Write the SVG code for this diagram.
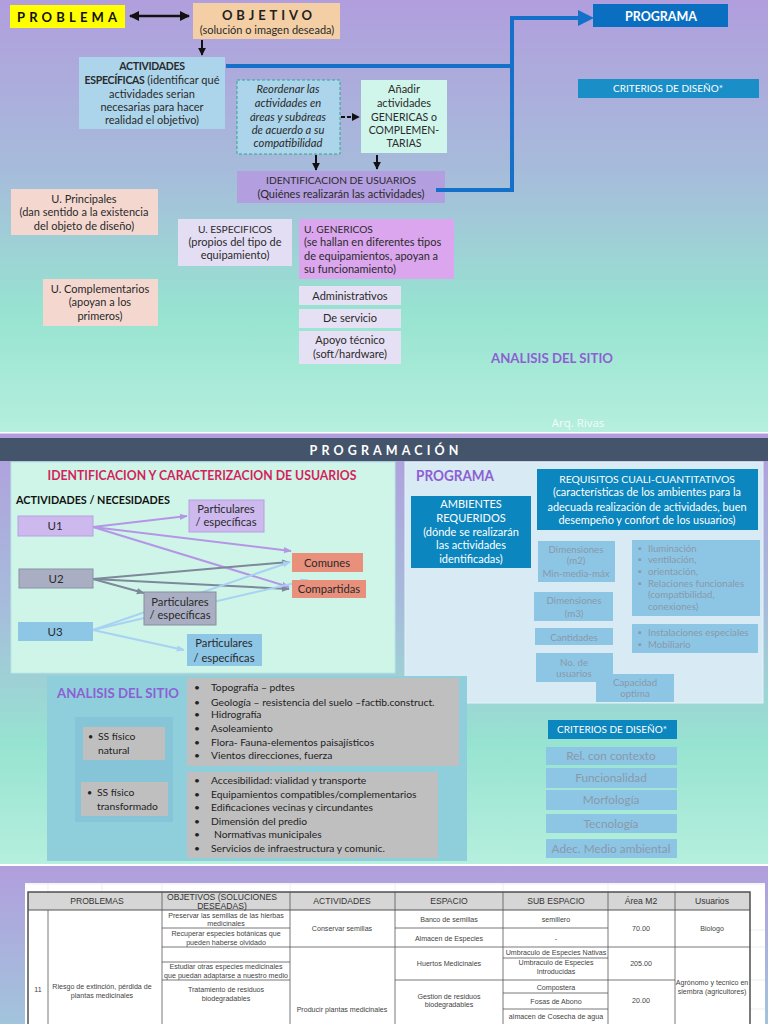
<svg xmlns="http://www.w3.org/2000/svg" width="768" height="1024" viewBox="0 0 768 1024" font-size="11">
<defs>
<linearGradient id="bg1" x1="0" y1="0" x2="0" y2="1">
<stop offset="0" stop-color="#b19edd"/>
<stop offset="0.4" stop-color="#a6bcdb"/>
<stop offset="0.72" stop-color="#97e3d1"/>
<stop offset="1" stop-color="#b6efdd"/>
</linearGradient>
<linearGradient id="bg3" x1="0" y1="0" x2="0" y2="1">
<stop offset="0" stop-color="#b19edd"/>
<stop offset="1" stop-color="#a2c4dc"/>
</linearGradient>
<marker id="mk" viewBox="0 0 10 10" refX="9" refY="5" markerWidth="4" markerHeight="4" orient="auto-start-reverse"><path d="M0,0 L10,5 L0,10 z" fill="#111"/></marker>
<marker id="mp" viewBox="0 0 10 10" refX="9" refY="5" markerWidth="4" markerHeight="4" orient="auto"><path d="M0,1 L10,5 L0,9 z" fill="#b596e6"/></marker>
<marker id="mg" viewBox="0 0 10 10" refX="9" refY="5" markerWidth="4" markerHeight="4" orient="auto"><path d="M0,1 L10,5 L0,9 z" fill="#7d889a"/></marker>
<marker id="ml" viewBox="0 0 10 10" refX="9" refY="5" markerWidth="4" markerHeight="4" orient="auto"><path d="M0,1 L10,5 L0,9 z" fill="#a8d2f2"/></marker>
</defs>
<style>
text{font-family:Lato,"Open Sans","Liberation Sans",sans-serif;fill:#2a2a2a}
.c{text-anchor:middle}
.b{font-weight:bold}
.u{font-size:10.2px}
.w{fill:#ffffff}
.g{fill:#8a98aa;font-size:9.7px}
.gb{fill:#8a98aa;font-size:11.8px}
.pu{fill:#8d5fd3;font-weight:bold}
.cal{font-size:10.3px;fill:#222}
.tb{font-family:"Liberation Sans",Arial,sans-serif;font-size:7.1px;fill:#444}
.th{font-family:"Liberation Sans",Arial,sans-serif;font-size:8.6px;fill:#333}
.gl{stroke:#555;stroke-width:0.8;fill:none}
</style>

<!-- Slide backgrounds -->
<rect x="0" y="0" width="768" height="432" fill="url(#bg1)"/>
<rect x="0" y="432" width="768" height="1.5" fill="#ffffff"/>
<rect x="0" y="433.5" width="768" height="431" fill="url(#bg1)"/>
<rect x="0" y="438" width="768" height="23" fill="#44546a"/>
<rect x="0" y="864" width="768" height="2" fill="#ffffff"/>
<rect x="0" y="866" width="768" height="158" fill="url(#bg3)"/>

<!-- ===== Slide 1 ===== -->
<g id="connectors-top">
<line x1="130" y1="16" x2="189" y2="16" stroke="#111" stroke-width="2.5" marker-start="url(#mk)" marker-end="url(#mk)"/>
<line x1="202" y1="40" x2="202" y2="55" stroke="#111" stroke-width="2" marker-end="url(#mk)"/>
<line x1="341" y1="117" x2="359" y2="117" stroke="#111" stroke-width="2" stroke-dasharray="4,2" marker-end="url(#mk)"/>
<line x1="316" y1="155" x2="316" y2="170" stroke="#111" stroke-width="2" marker-end="url(#mk)"/>
<line x1="377" y1="155" x2="377" y2="169" stroke="#111" stroke-width="2" marker-end="url(#mk)"/>
</g>

<g id="n-problema">
<rect x="10" y="5" width="115" height="23" fill="#ffff00"/>
<text x="17" y="21.5" class="b" font-size="13" textLength="100" lengthAdjust="spacing" style="fill:#111">PROBLEMA</text>
</g>
<g id="n-objetivo">
<rect x="193" y="3" width="147" height="36" fill="#f4cfa6"/>
<text x="222" y="20" class="b" font-size="13" textLength="90" lengthAdjust="spacing" style="fill:#222">OBJETIVO</text>
<text x="267" y="33.5" class="c">(solución o imagen deseada)</text>
</g>
<g id="n-actividades">
<rect x="79" y="57" width="146" height="72" fill="#acd4ea"/>
<text x="152" y="70" class="c b" font-size="10.5" style="letter-spacing:-0.3px">ACTIVIDADES</text>
<text x="152" y="84" class="c"><tspan class="b" font-size="10.5" style="letter-spacing:-0.3px">ESPECÍFICAS</tspan> (identificar qué</text>
<text x="152" y="97.5" class="c">actividades serian</text>
<text x="152" y="110.5" class="c">necesarias para hacer</text>
<text x="152" y="123.5" class="c">realidad el objetivo)</text>
</g>
<g id="n-reordenar">
<rect x="237" y="80" width="103" height="74" fill="#acd4ea" stroke="#2aa88a" stroke-width="1" stroke-dasharray="3,2"/>
<text x="288" y="93" class="c" font-size="11.2" font-style="italic">Reordenar las</text>
<text x="288" y="106.5" class="c" font-size="11.2" font-style="italic">actividades en</text>
<text x="288" y="120.5" class="c" font-size="11.2" font-style="italic">áreas y subáreas</text>
<text x="288" y="133.5" class="c" font-size="11.2" font-style="italic">de acuerdo a su</text>
<text x="288" y="147" class="c" font-size="11.2" font-style="italic">compatibilidad</text>
</g>
<g id="n-anadir">
<rect x="361" y="80" width="86" height="73" fill="#d0f5ea"/>
<text x="404" y="93" class="c">Añadir</text>
<text x="404" y="106.5" class="c">actividades</text>
<text x="404" y="120.5" class="c" font-size="10.5">GENERICAS o</text>
<text x="404" y="133.5" class="c" font-size="10.5">COMPLEMEN-</text>
<text x="404" y="147" class="c" font-size="10.5">TARIAS</text>
</g>
<g id="n-identificacion">
<rect x="237" y="171" width="208" height="32" fill="#b39ee0"/>
<text x="341" y="184" class="c u">IDENTIFICACION DE USUARIOS</text>
<text x="341" y="197.5" class="c">(Quiénes realizarán las actividades)</text>
</g>
<g id="connectors-blue">
<polyline points="226,66 512,66" fill="none" stroke="#1470c8" stroke-width="4"/>
<polyline points="436,190 512,190 512,18 580,18" fill="none" stroke="#1470c8" stroke-width="4"/>
<path d="M578,10 L594,18 L578,26 z" fill="#1470c8"/>
</g>
<g id="n-programa">
<rect x="593" y="4" width="135" height="23" fill="#0b6fc1"/>
<text x="661" y="21" class="c b w" font-size="13.5" textLength="72" lengthAdjust="spacingAndGlyphs">PROGRAMA</text>
</g>
<g id="n-criterios1">
<rect x="578" y="79" width="181" height="19" fill="#1a8ec7"/>
<text x="668" y="92" class="c w" font-size="10">CRITERIOS DE DISEÑO*</text>
</g>
<g id="n-uprincipales">
<rect x="11" y="189" width="147" height="46" fill="#f4d8d0"/>
<text x="84" y="202.5" class="c">U. Principales</text>
<text x="84" y="215.5" class="c">(dan sentido a la existencia</text>
<text x="84" y="229.5" class="c">del objeto de diseño)</text>
</g>
<g id="n-uespecificos">
<rect x="178" y="219" width="114" height="47" fill="#e4def4"/>
<text x="235" y="232.5" class="c u">U. ESPECIFICOS</text>
<text x="235" y="245.5" class="c">(propios del tipo de</text>
<text x="235" y="258.5" class="c">equipamiento)</text>
</g>
<g id="n-ugenericos">
<rect x="299" y="219" width="155" height="60" fill="#dba6ee"/>
<text x="304" y="232.5" class="u">U. GENERICOS</text>
<text x="304" y="245.5">(se hallan en diferentes tipos</text>
<text x="304" y="259.5">de equipamientos, apoyan a</text>
<text x="304" y="272.5">su funcionamiento)</text>
</g>
<g id="n-ucomplementarios">
<rect x="43" y="279" width="115" height="47" fill="#f4d8d0"/>
<text x="100" y="292.5" class="c">U. Complementarios</text>
<text x="100" y="305.5" class="c">(apoyan a los</text>
<text x="100" y="319.5" class="c">primeros)</text>
</g>
<g id="n-administrativos">
<rect x="299" y="286" width="102" height="19" fill="#e6e0f4"/>
<text x="350" y="299.5" class="c">Administrativos</text>
</g>
<g id="n-deservicio">
<rect x="299" y="309" width="102" height="19" fill="#e6e0f4"/>
<text x="350" y="322" class="c">De servicio</text>
</g>
<g id="n-apoyo">
<rect x="299" y="331" width="102" height="33" fill="#e6e0f4"/>
<text x="350" y="344" class="c">Apoyo técnico</text>
<text x="350" y="358" class="c">(soft/hardware)</text>
</g>
<g id="n-analisis1">
<text x="552" y="363" class="c pu" font-size="13.3" textLength="122" lengthAdjust="spacingAndGlyphs">ANALISIS DEL SITIO</text>
</g>
<text x="578" y="427" class="c" font-size="11.5" style="fill:#ffffff;fill-opacity:0.85;font-family:'Open Sans','Liberation Sans',sans-serif">Arq. Rivas</text>

<!-- ===== Slide 2 ===== -->
<text x="384" y="454.5" class="c b w" font-size="12.5" textLength="149" lengthAdjust="spacing">PROGRAMACIÓN</text>

<rect x="405" y="462" width="358" height="241" fill="#d8ebf4" stroke="#e6f2f8" stroke-width="1"/>
<rect x="11" y="462" width="384" height="211" fill="#cff5e8" stroke="#b8e6e6" stroke-width="1"/>
<text x="202" y="480" class="c b" font-size="12.4" textLength="309" lengthAdjust="spacingAndGlyphs" style="fill:#d41f5c">IDENTIFICACION  Y CARACTERIZACION DE USUARIOS</text>
<text x="16" y="504" class="b" font-size="11.2" textLength="154" lengthAdjust="spacingAndGlyphs" style="fill:#111">ACTIVIDADES / NECESIDADES</text>

<g id="connectors-users">
<line x1="93" y1="527" x2="187" y2="516" stroke="#b596e6" stroke-width="2" marker-end="url(#mp)"/>
<line x1="93" y1="527" x2="291" y2="551" stroke="#b596e6" stroke-width="2" marker-end="url(#mp)"/>
<line x1="93" y1="527" x2="289" y2="587" stroke="#b596e6" stroke-width="2" marker-end="url(#mp)"/>
<line x1="93" y1="579" x2="289" y2="562" stroke="#7d889a" stroke-width="2" marker-end="url(#mg)"/>
<line x1="93" y1="579" x2="289" y2="589" stroke="#7d889a" stroke-width="2" marker-end="url(#mg)"/>
<line x1="93" y1="579" x2="144" y2="593" stroke="#7d889a" stroke-width="2" marker-end="url(#mg)"/>
<line x1="93" y1="630" x2="290" y2="562" stroke="#a8d2f2" stroke-width="2" marker-end="url(#ml)"/>
<line x1="93" y1="630" x2="308" y2="580" stroke="#a8d2f2" stroke-width="2" marker-end="url(#ml)"/>
<line x1="93" y1="630" x2="184" y2="650" stroke="#a8d2f2" stroke-width="2" marker-end="url(#ml)"/>
</g>

<g id="n-u1">
<rect x="18" y="516" width="75" height="20" fill="#cdb9ee" stroke="#b8a0e2" stroke-width="1"/>
<text x="55" y="530" class="c" font-size="11.5">U1</text>
</g>
<g id="n-part1">
<rect x="189" y="500" width="75" height="32" fill="#cdb9ee" stroke="#b8a0e2" stroke-width="1"/>
<text x="226" y="513" class="c" font-size="11.2">Particulares</text>
<text x="226" y="526" class="c" font-size="11.2">/ específicas</text>
</g>
<g id="n-u2">
<rect x="19" y="569" width="74" height="19" fill="#a9aec2" stroke="#8a92a4" stroke-width="1"/>
<text x="56" y="582.5" class="c" font-size="11.5">U2</text>
</g>
<g id="n-part2">
<rect x="144" y="592" width="72" height="33" fill="#a9aec2" stroke="#888e9c" stroke-width="1"/>
<text x="180" y="606" class="c" font-size="11.2">Particulares</text>
<text x="180" y="618.5" class="c" font-size="11.2">/ específicas</text>
</g>
<g id="n-u3">
<rect x="18" y="622" width="75" height="19" fill="#8ec7e6"/>
<text x="55" y="635.5" class="c" font-size="11.5">U3</text>
</g>
<g id="n-part3">
<rect x="187" y="634" width="75" height="32" fill="#8ec7e6"/>
<text x="224" y="647" class="c" font-size="11.2">Particulares</text>
<text x="224" y="661.5" class="c" font-size="11.2">/ específicas</text>
</g>
<g id="n-comunes">
<rect x="292" y="553" width="71" height="19" fill="#e8907c"/>
<text x="327" y="566.5" class="c" font-size="11.2">Comunes</text>
</g>
<g id="n-compartidas">
<rect x="292" y="580" width="74" height="18" fill="#e8907c"/>
<text x="329" y="593" class="c" font-size="11.2">Compartidas</text>
</g>

<text x="416" y="481" class="pu" font-size="14.5" textLength="78" lengthAdjust="spacingAndGlyphs">PROGRAMA</text>
<g id="n-ambientes">
<rect x="411" y="496" width="120" height="72" fill="#0b86be"/>
<text x="471" y="508" class="c w">AMBIENTES</text>
<text x="471" y="522" class="c w">REQUERIDOS</text>
<text x="471" y="536" class="c w">(dónde se realizarán</text>
<text x="471" y="549" class="c w">las actividades</text>
<text x="471" y="563" class="c w">identificadas)</text>
</g>
<g id="n-requisitos">
<rect x="537" y="469" width="221" height="61" fill="#0b86be"/>
<text x="647" y="483" class="c w" font-size="10.4">REQUISITOS CUALI-CUANTITATIVOS</text>
<text x="647" y="496" class="c w" font-size="10.9">(características de los ambientes para la</text>
<text x="647" y="511" class="c w" font-size="10.9">adecuada realización de actividades, buen</text>
<text x="647" y="524" class="c w" font-size="10.9">desempeño y confort de los usuarios)</text>
</g>
<g id="n-dim2">
<rect x="538" y="541" width="77" height="41" fill="#8cc6e4"/>
<text x="576" y="552.5" class="c g">Dimensiones</text>
<text x="576" y="564" class="c g">(m2)</text>
<text x="576" y="576.5" class="c g">Min-media-máx</text>
</g>
<g id="n-bul1">
<rect x="632" y="540" width="128" height="76" fill="#8cc6e4"/>
<text x="638" y="551.5" class="g">▪</text><text x="648" y="551.5" class="g">Iluminación</text>
<text x="638" y="562.5" class="g">▪</text><text x="648" y="562.5" class="g">ventilación,</text>
<text x="638" y="574.5" class="g">▪</text><text x="648" y="574.5" class="g">orientación,</text>
<text x="638" y="586.5" class="g">▪</text><text x="648" y="586.5" class="g">Relaciones funcionales</text>
<text x="648" y="598" class="g">(compatibilidad,</text>
<text x="648" y="609.5" class="g">conexiones)</text>
</g>
<g id="n-dim3">
<rect x="534" y="592" width="79" height="29" fill="#8cc6e4"/>
<text x="574" y="604" class="c g">Dimensiones</text>
<text x="574" y="616.5" class="c g">(m3)</text>
</g>
<g id="n-cantidades">
<rect x="535" y="628" width="78" height="17" fill="#8cc6e4"/>
<text x="574" y="640.5" class="c g">Cantidades</text>
</g>
<g id="n-bul2">
<rect x="632" y="624" width="126" height="29" fill="#8cc6e4"/>
<text x="638" y="635.5" class="g">▪</text><text x="648" y="635.5" class="g">Instalaciones especiales</text>
<text x="638" y="647.5" class="g">▪</text><text x="648" y="647.5" class="g">Mobiliario</text>
</g>
<g id="n-nousuarios">
<rect x="536" y="653" width="77" height="29" fill="#8cc6e4"/>
<text x="574" y="665.5" class="c g">No. de</text>
<text x="574" y="676.5" class="c g">usuarios</text>
</g>
<g id="n-capacidad">
<rect x="596" y="674" width="78" height="28" fill="#8cc6e4"/>
<text x="635" y="685.5" class="c g">Capacidad</text>
<text x="635" y="697" class="c g">optima</text>
</g>

<g id="n-analisis2">
<rect x="47" y="676" width="420" height="185" fill="#8fcfdc"/>
<rect x="75" y="717" width="98" height="105" fill="#86c4d8"/>
<text x="57" y="698" class="pu" font-size="13.3" textLength="122" lengthAdjust="spacingAndGlyphs">ANALISIS DEL SITIO</text>
</g>
<g id="n-ssnatural">
<rect x="83" y="727" width="82" height="33" fill="#bfbfbf"/>
<text x="88" y="739.5" class="cal" style="font-size:9px">•</text>
<text x="98" y="739.5" class="cal">SS físico</text>
<text x="98" y="753.5" class="cal">natural</text>
</g>
<g id="n-sstransf">
<rect x="81" y="782" width="87" height="34" fill="#bfbfbf"/>
<text x="87" y="795.5" class="cal" style="font-size:9px">•</text>
<text x="97" y="795.5" class="cal">SS físico</text>
<text x="97" y="809.5" class="cal">transformado</text>
</g>
<g id="n-natlist">
<rect x="187" y="678" width="272" height="88" fill="#bfbfbf"/>
<text x="194" y="690.5" class="cal">•</text><text x="211" y="690.5" class="cal">Topografía – pdtes</text>
<text x="194" y="705.5" class="cal">•</text><text x="211" y="705.5" class="cal">Geología – resistencia del suelo –factib.construct.</text>
<text x="194" y="717.5" class="cal">•</text><text x="211" y="717.5" class="cal">Hidrografía</text>
<text x="194" y="731.5" class="cal">•</text><text x="211" y="731.5" class="cal">Asoleamiento</text>
<text x="194" y="745.5" class="cal">•</text><text x="211" y="745.5" class="cal">Flora- Fauna-elementos  paisajísticos</text>
<text x="194" y="758.5" class="cal">•</text><text x="211" y="758.5" class="cal">Vientos direcciones, fuerza</text>
</g>
<g id="n-translist">
<rect x="187" y="772" width="251" height="86" fill="#bfbfbf"/>
<text x="194" y="783.5" class="cal">•</text><text x="211" y="783.5" class="cal">Accesibilidad: vialidad y transporte</text>
<text x="194" y="797.5" class="cal">•</text><text x="211" y="797.5" class="cal">Equipamientos compatibles/complementarios</text>
<text x="194" y="810.5" class="cal">•</text><text x="211" y="810.5" class="cal">Edificaciones vecinas y circundantes</text>
<text x="194" y="824.5" class="cal">•</text><text x="211" y="824.5" class="cal">Dimensión del predio</text>
<text x="194" y="837.5" class="cal">•</text><text x="214" y="837.5" class="cal">Normativas municipales</text>
<text x="194" y="851.5" class="cal">•</text><text x="211" y="851.5" class="cal">Servicios de infraestructura y comunic.</text>
</g>

<g id="n-criterios2">
<rect x="548" y="720" width="129" height="19" fill="#0b86be"/>
<text x="612" y="733" class="c w" font-size="10">CRITERIOS DE DISEÑO*</text>
</g>
<g id="n-crit-items">
<rect x="546" y="747" width="131" height="18" fill="#8cc6e4"/>
<text x="611" y="760" class="c gb">Rel. con contexto</text>
<rect x="546" y="768" width="131" height="20" fill="#8cc6e4"/>
<text x="611" y="782" class="c gb">Funcionalidad</text>
<rect x="546" y="790" width="131" height="20" fill="#8cc6e4"/>
<text x="611" y="804" class="c gb">Morfología</text>
<rect x="546" y="814" width="131" height="19" fill="#8cc6e4"/>
<text x="611" y="828" class="c gb">Tecnología</text>
<rect x="546" y="839" width="131" height="19" fill="#8cc6e4"/>
<text x="611" y="852.5" class="c gb">Adec. Medio ambiental</text>
</g>

<!-- ===== Slide 3: table ===== -->
<g id="table">
<rect x="25" y="883" width="740" height="141" fill="#ffffff"/>
<g stroke="#e2e2e2" stroke-width="0.6">
<line x1="25" y1="884" x2="765" y2="884"/>
<line x1="48" y1="883" x2="48" y2="892"/>
<line x1="102" y1="883" x2="102" y2="892"/>
<line x1="162" y1="883" x2="162" y2="892"/>
<line x1="290" y1="883" x2="290" y2="892"/>
<line x1="395" y1="883" x2="395" y2="892"/>
<line x1="503" y1="883" x2="503" y2="892"/>
<line x1="608" y1="883" x2="608" y2="892"/>
<line x1="675" y1="883" x2="675" y2="892"/>
<line x1="750" y1="930" x2="765" y2="930"/>
<line x1="750" y1="947" x2="765" y2="947"/>
<line x1="750" y1="980" x2="765" y2="980"/>
<line x1="750" y1="1009" x2="765" y2="1009"/>
</g>
<rect x="28" y="892" width="722" height="18" fill="#d6d6d6"/>
<g class="gl">
<rect x="28" y="892" width="722" height="140" stroke="#444" stroke-width="1.4"/>
<line x1="28" y1="910" x2="750" y2="910" stroke-width="1.2"/>
<line x1="48" y1="910" x2="48" y2="1024"/>
<line x1="162" y1="892" x2="162" y2="1024"/>
<line x1="290" y1="892" x2="290" y2="1024"/>
<line x1="395" y1="892" x2="395" y2="1024"/>
<line x1="503" y1="892" x2="503" y2="1024"/>
<line x1="608" y1="892" x2="608" y2="1024"/>
<line x1="675" y1="892" x2="675" y2="1024"/>
<line x1="162" y1="928" x2="290" y2="928"/>
<line x1="162" y1="947" x2="290" y2="947"/>
<line x1="162" y1="962" x2="290" y2="962"/>
<line x1="162" y1="980" x2="290" y2="980"/>
<line x1="290" y1="947" x2="395" y2="947"/>
<line x1="395" y1="928" x2="503" y2="928"/>
<line x1="395" y1="947" x2="503" y2="947"/>
<line x1="395" y1="980" x2="503" y2="980"/>
<line x1="503" y1="928" x2="608" y2="928"/>
<line x1="503" y1="947" x2="608" y2="947"/>
<line x1="503" y1="958" x2="608" y2="958"/>
<line x1="503" y1="980" x2="608" y2="980"/>
<line x1="503" y1="993" x2="608" y2="993"/>
<line x1="503" y1="1009" x2="608" y2="1009"/>
<line x1="608" y1="947" x2="675" y2="947"/>
<line x1="608" y1="980" x2="675" y2="980"/>
<line x1="675" y1="947" x2="750" y2="947"/>
</g>
<text x="97" y="904" class="c th">PROBLEMAS</text>
<text x="222" y="900" class="c th">OBJETIVOS (SOLUCIONES</text>
<text x="222" y="909" class="c th">DESEADAS)</text>
<text x="342" y="904" class="c th">ACTIVIDADES</text>
<text x="449" y="904" class="c th">ESPACIO</text>
<text x="556" y="904" class="c th">SUB ESPACIO</text>
<text x="641" y="904" class="c th">Área M2</text>
<text x="712" y="904" class="c th">Usuarios</text>

<text x="226" y="917.5" class="c tb">Preservar las semillas de las hierbas</text>
<text x="226" y="926" class="c tb">medicinales</text>
<text x="226" y="936" class="c tb">Recuperar especies botánicas que</text>
<text x="226" y="945" class="c tb">pueden haberse olvidado</text>
<text x="226" y="969" class="c tb">Estudiar otras especies medicinales</text>
<text x="226" y="978" class="c tb">que puedan adaptarse a nuestro medio</text>
<text x="226" y="992" class="c tb">Tratamiento de residuos</text>
<text x="226" y="1001" class="c tb">biodegradables</text>

<text x="342" y="930.5" class="c tb">Conservar semillas</text>
<text x="342" y="1012" class="c tb">Producir plantas medicinales</text>

<text x="449" y="921.5" class="c tb">Banco de semillas</text>
<text x="449" y="940.5" class="c tb">Almacen de Especies</text>
<text x="449" y="965.5" class="c tb">Huertos Medicinales</text>
<text x="449" y="999" class="c tb">Gestion de residuos</text>
<text x="449" y="1007" class="c tb">biodegradables</text>

<text x="556" y="921.5" class="c tb">semillero</text>
<text x="556" y="940.5" class="c tb">-</text>
<text x="556" y="955" class="c tb">Umbraculo de Especies Nativas</text>
<text x="556" y="965" class="c tb">Umbraculo de Especies</text>
<text x="556" y="974" class="c tb">Introducidas</text>
<text x="556" y="989.5" class="c tb">Compostera</text>
<text x="556" y="1003.5" class="c tb">Fosas de Abono</text>
<text x="556" y="1019" class="c tb">almacen de Cosecha de agua</text>

<text x="641" y="930.5" class="c tb">70.00</text>
<text x="641" y="965.5" class="c tb">205.00</text>
<text x="641" y="1003" class="c tb">20.00</text>

<text x="712" y="930.5" class="c tb">Biologo</text>
<text x="712" y="985" class="c tb">Agrónomo y tecnico en</text>
<text x="712" y="994" class="c tb">siembra (agricultores)</text>

<text x="38" y="992" class="c tb">11</text>
<text x="102" y="989" class="c tb">Riesgo de extinción, pérdida de</text>
<text x="102" y="998" class="c tb">plantas medicinales</text>
</g>
</svg>
